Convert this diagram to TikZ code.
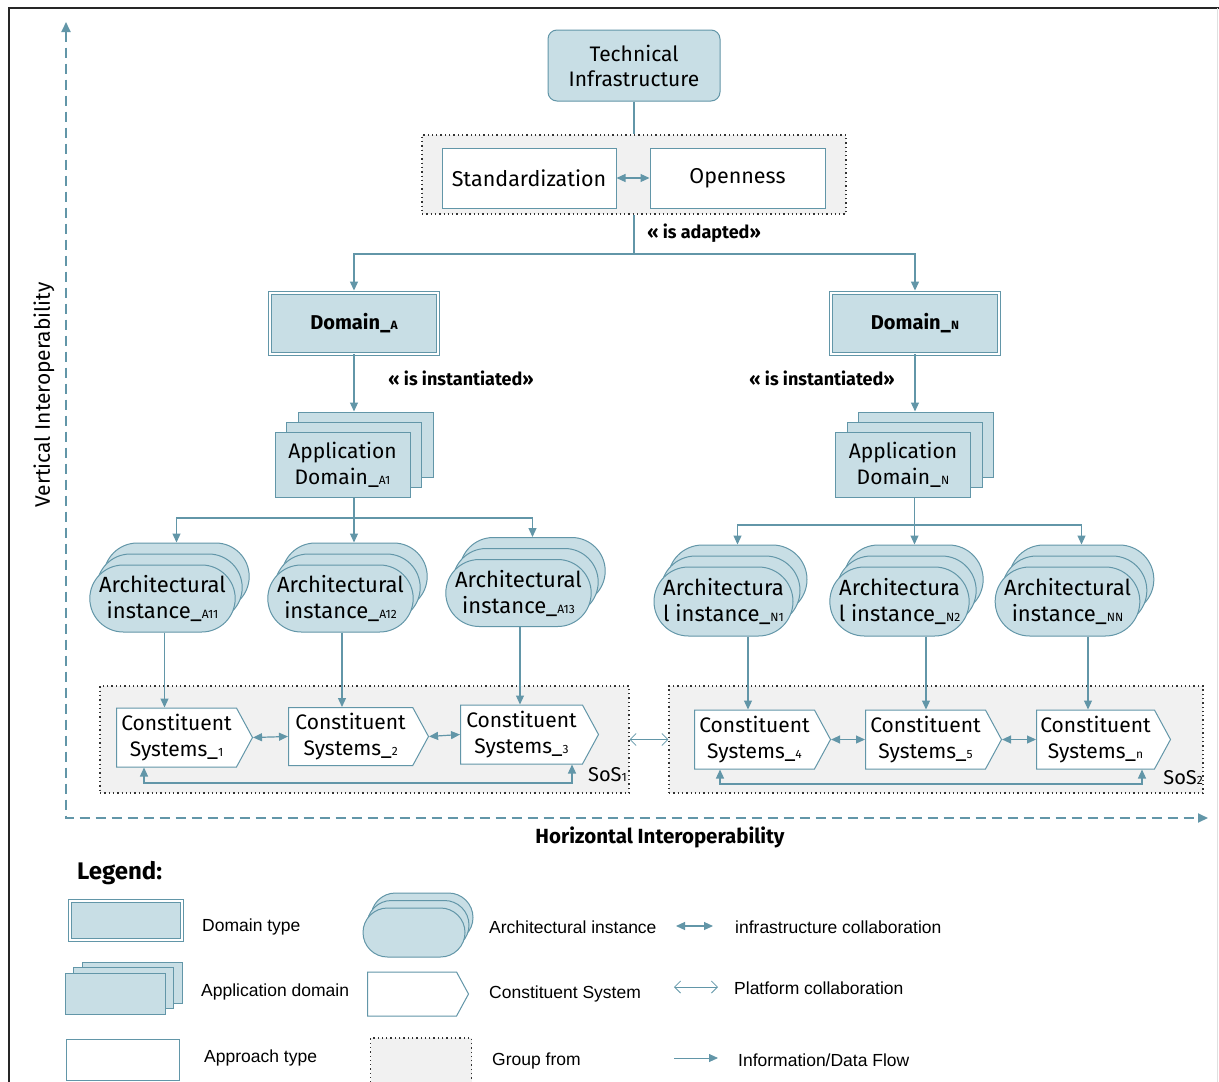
\documentclass[tikz,border=0pt]{standalone}
\usepackage{fontspec}
\setmainfont{Fira Sans}
\newfontfamily\arialf{Liberation Sans}
\usetikzlibrary{arrows.meta,shapes.misc,shapes.symbols,shadows,calc}
\definecolor{lc}{RGB}{98,150,168}
\definecolor{bf}{RGB}{200,222,229}
\definecolor{gf}{RGB}{241,241,241}
\newcommand\subx[1]{{\fontsize{12}{12}\selectfont #1}}
\tikzset{
  ln/.style={draw=lc, line width=1.2pt},
  arr/.style={ln, -{Triangle[length=9pt,width=8pt]}},
  biarr/.style={ln, {Triangle[length=9pt,width=8pt]}-{Triangle[length=9pt,width=8pt]}},
  openbi/.style={draw=lc, line width=0.8pt, {Straight Barb[length=6pt,width=12pt]}-{Straight Barb[length=6pt,width=12pt]}},
  axisln/.style={draw=lc, line width=1.8pt, dash pattern=on 10pt off 6pt},
  bluebox/.style={draw=lc, line width=1pt, fill=bf},
  techbox/.style={bluebox, rounded corners=9pt, inner sep=0, align=center, font=\fontsize{21}{25}\selectfont},
  appr/.style={draw=lc, line width=1pt, fill=white, inner sep=0, font=\fontsize{21.5}{25}\selectfont},
  grp/.style={draw=black!80, line width=1.2pt, dash pattern=on 1.3pt off 3pt, fill=gf, inner sep=0},
  domainbox/.style={draw=lc, line width=0.9pt, double=white, double distance=2.6pt, fill=bf, inner sep=0, font=\bfseries\fontsize{20}{24}\selectfont},
  stack/.style n args={4}{copy shadow={shadow xshift=#3, shadow yshift=#4, fill=bf, draw=lc, line width=1pt},
                          copy shadow={shadow xshift=#1, shadow yshift=#2, fill=bf, draw=lc, line width=1pt}},
  appbox/.style={bluebox, inner sep=0, align=center, font=\fontsize{21}{26}\selectfont},
  archbox/.style={rounded rectangle, bluebox, inner sep=0, align=center, font=\fontsize{22}{26}\selectfont},
  csbox/.style={signal, signal to=east, signal pointer angle=123, draw=lc, line width=1pt, fill=white,
                inner sep=1pt, align=center, font=\fontsize{21}{26}\selectfont},
  lbl/.style={font=\bfseries\fontsize{18}{18}\selectfont, inner sep=0},
  lgt/.style={anchor=west, font=\arialf\fontsize{17.5}{17.5}\selectfont, inner sep=0}
}
\begin{document}
\begin{tikzpicture}[x=1pt,y=-1pt]
\useasboundingbox (0,0) rectangle (1219,1082);
\fill[white] (0,0) rectangle (1219,1082);
% frame
\draw[black!85, line width=1.5pt] (9,1082) -- (9,8) -- (1219,8);
\draw[black!12, line width=1pt] (1217,8) -- (1217,1082);

% axes
\coordinate (orig) at (66,818);
\coordinate (vtop) at (66,22);
\coordinate (hend) at (1208,818);
\draw[axisln, {Triangle[length=10pt,width=9pt]}-{Triangle[length=10pt,width=9pt]}] (vtop) -- (orig) -- (hend);
\node[rotate=90, font=\fontsize{21}{21}\selectfont] (vlab) at (44,395) {Vertical Interoperability};
\node[font=\bfseries\fontsize{20.5}{20.5}\selectfont] (hlab) at (660,837) {Horizontal Interoperability};

% top
\node[techbox, minimum width=172pt, minimum height=71pt] (tech) at (634,65.5) {Technical\\Infrastructure};
\node[grp, minimum width=424pt, minimum height=79pt] (gtop) at (634,174.5) {};
\node[appr, minimum width=174pt, minimum height=60pt] (std) at (529,178) {Standardization};
\node[appr, minimum width=175pt, minimum height=60pt] (open) at (737.5,178) {Openness};
\draw[biarr] (std) -- (open);
\draw[ln] (tech.south) -- (gtop.north);
\coordinate (jt) at (634,254);
\node[lbl] (adapt) at (704,233) {<< is adapted>>};

% domains
\node[domainbox, minimum width=168pt, minimum height=61pt] (domA) at (354,323.5) {Domain\_\subx{A}};
\node[domainbox, minimum width=168pt, minimum height=61pt] (domN) at (915,323.5) {Domain\_\subx{N}};
\draw[ln] (gtop.south) -- (jt);
\draw[arr] (jt) -| ([yshift=2pt]domA.north);
\draw[arr] (jt) -| ([yshift=2pt]domN.north);
\node[lbl] (instA) at (461,378) {<< is instantiated>>};
\node[lbl] (instN) at (822,378) {<< is instantiated>>};

% application domains
\node[appbox, stack={11.5pt}{10pt}{23pt}{20pt}, minimum width=135pt, minimum height=65pt] (appA) at (342.5,464.5) {Application\\Domain\_\subx{A1}};
\node[appbox, stack={11.5pt}{10pt}{23pt}{20pt}, minimum width=135pt, minimum height=65pt] (appN) at (903,464.5) {Application\\Domain\_\subx{N}};
\coordinate (appAtop) at ([xshift=11.5pt,yshift=20pt]appA.north);
\coordinate (appNtop) at ([xshift=12pt,yshift=20pt]appN.north);
\draw[arr] (domA.south) -- (appAtop);
\draw[arr] (domN.south) -- (appNtop);

% architectural instances
\node[archbox, stack={7pt}{11pt}{14pt}{22pt}, minimum width=139pt, minimum height=67pt] (a11) at (162.5,598.5) {Architectural\\instance\_\subx{A11}};
\node[archbox, stack={7pt}{11pt}{14pt}{22pt}, minimum width=143pt, minimum height=67pt] (a12) at (340.5,598.5) {Architectural\\instance\_\subx{A12}};
\node[archbox, stack={7pt}{11pt}{14pt}{22pt}, minimum width=139pt, minimum height=67pt] (a13) at (518.5,593) {Architectural\\instance\_\subx{A13}};
\node[archbox, stack={7pt}{11pt}{14pt}{22pt}, minimum width=139pt, minimum height=69pt] (n1) at (723.5,601.5) {Architectura\\l instance\_\subx{N1}};
\node[archbox, stack={7pt}{11pt}{14pt}{22pt}, minimum width=139pt, minimum height=69pt] (n2) at (899.5,601.5) {Architectura\\l instance\_\subx{N2}};
\node[archbox, stack={7pt}{11pt}{14pt}{22pt}, minimum width=139pt, minimum height=69pt] (nn) at (1067.5,601.5) {Architectural\\instance\_\subx{NN}};
\coordinate (a11top) at ([xshift=14pt,yshift=22pt]a11.north);
\coordinate (a12top) at ([xshift=14pt,yshift=22pt]a12.north);
\coordinate (a13top) at ([xshift=14pt,yshift=22pt]a13.north);
\coordinate (n1top) at ([xshift=14pt,yshift=22pt]n1.north);
\coordinate (n2top) at ([xshift=14pt,yshift=22pt]n2.north);
\coordinate (nntop) at ([xshift=14pt,yshift=22pt]nn.north);
\coordinate (brA) at (354,518);
\coordinate (brN) at (914.5,525);
\draw[ln] (appA.south -| brA) -- (brA);
\draw[ln] (appN.south -| brN) -- (brN);
\draw[arr] (brA) -| (a11top);
\draw[arr] (brA) -- (brA |- a12top);
\draw[arr] (brA) -| (a13top);
\draw[arr] (brN) -| (n1top);
\draw[arr] (brN) -- (brN |- n2top);
\draw[arr] (brN) -| (nntop);

% SoS groups
\node[grp, minimum width=529pt, minimum height=107pt] (sos1) at (364.5,739.5) {};
\node[grp, minimum width=534pt, minimum height=107pt] (sos2) at (936,739.5) {};
\draw[openbi] (sos1.east) -- (sos2.west);
\node[font=\fontsize{20}{20}\selectfont, anchor=base east, inner sep=0] (sos1l) at (627,781) {SoS\subx{1}};
\node[font=\fontsize{20}{20}\selectfont, anchor=base east, inner sep=0] (sos2l) at (1203,784) {SoS\subx{2}};

% constituent systems
\node[csbox, minimum width=136pt, minimum height=59pt, anchor=west] (cs1) at (116,737.5) {Constituent\\Systems\_\subx{1}};
\node[csbox, minimum width=140pt, minimum height=58pt, anchor=west] (cs2) at (288,736.5) {Constituent\\Systems\_\subx{2}};
\node[csbox, minimum width=138pt, minimum height=59pt, anchor=west] (cs3) at (460,734.5) {Constituent\\Systems\_\subx{3}};
\node[csbox, minimum width=136pt, minimum height=59pt, anchor=west] (cs4) at (694,739.5) {Constituent\\Systems\_\subx{4}};
\node[csbox, minimum width=136pt, minimum height=59pt, anchor=west] (cs5) at (865,739.5) {Constituent\\Systems\_\subx{5}};
\node[csbox, minimum width=134pt, minimum height=59pt, anchor=west] (csn) at (1036,739.5) {Constituent\\Systems\_\subx{n}};
\draw[biarr] (cs1.east) -- (cs2.west);
\draw[biarr] (cs2.east) -- (cs3.west);
\draw[biarr] (cs4.east) -- (cs5.west);
\draw[biarr] (cs5.east) -- (csn.west);

\draw[arr] ([xshift=2pt]a11.south) -- ([xshift=2pt]a11.south |- cs1.north);
\draw[arr] ([xshift=1.5pt]a12.south) -- ([xshift=1.5pt]a12.south |- cs2.north);
\draw[arr] ([xshift=1.5pt]a13.south) -- ([xshift=1.5pt]a13.south |- cs3.north);
\draw[arr] ([xshift=24.5pt]n1.south) -- ([xshift=24.5pt]n1.south |- cs4.north);
\draw[arr] ([xshift=26.5pt]n2.south) -- ([xshift=26.5pt]n2.south |- cs5.north);
\draw[arr] ([xshift=20.5pt]nn.south) -- ([xshift=20.5pt]nn.south |- csn.north);

\coordinate (l1a) at (144,783);
\coordinate (l1b) at (572,783);
\coordinate (l2a) at (720,784);
\coordinate (l2b) at (1142,784);
\draw[biarr] (cs1.south -| l1a) -- (l1a) -- (l1b) -- (cs3.south -| l1b);
\draw[biarr] (cs4.south -| l2a) -- (l2a) -- (l2b) -- (csn.south -| l2b);

% legend
\node[font=\bfseries\fontsize{24}{24}\selectfont, anchor=west, inner sep=0] (leg) at (77,873) {Legend:};
\node[domainbox, minimum width=112pt, minimum height=39pt] (lgdom) at (126,920.5) {};
\node[appbox, stack={8.5pt}{5.5pt}{17pt}{11pt}, minimum width=100pt, minimum height=41pt] (lgapp) at (115,993.5) {};
\node[appr, minimum width=113pt, minimum height=41pt] (lgappr) at (122.5,1059.5) {};
\node[archbox, stack={4pt}{7.5pt}{8pt}{15pt}, minimum width=102pt, minimum height=49pt] (lgarch) at (414,932.5) {};
\node[csbox, minimum width=101pt, minimum height=44pt, anchor=west] (lgcs) at (367,994) {};
\node[grp, minimum width=101pt, minimum height=60pt] (lggrp) at (421,1068) {};
\node[lgt] (t1) at (202,927) {Domain type};
\node[lgt] (t2) at (201,992) {Application domain};
\node[lgt] (t3) at (204,1058) {Approach type};
\node[lgt] (t4) at (489,927) {Architectural instance};
\node[lgt] (t5) at (489,994) {Constituent System};
\node[lgt] (t6) at (492,1061) {Group from};
\node[lgt] (t7) at (735,927) {infrastructure collaboration};
\node[lgt] (t8) at (734,988) {Platform collaboration};
\node[lgt] (t9) at (738,1060) {Information/Data Flow};
\coordinate (la1) at (676,926); \coordinate (la2) at (713,926);
\coordinate (lb1) at (674,987); \coordinate (lb2) at (718,987);
\coordinate (lc1) at (674,1058); \coordinate (lc2) at (718,1058);
\draw[biarr] (la1) -- (la2);
\draw[openbi] (lb1) -- (lb2);
\draw[arr, line width=0.9pt] (lc1) -- (lc2);
\end{tikzpicture}
\end{document}
